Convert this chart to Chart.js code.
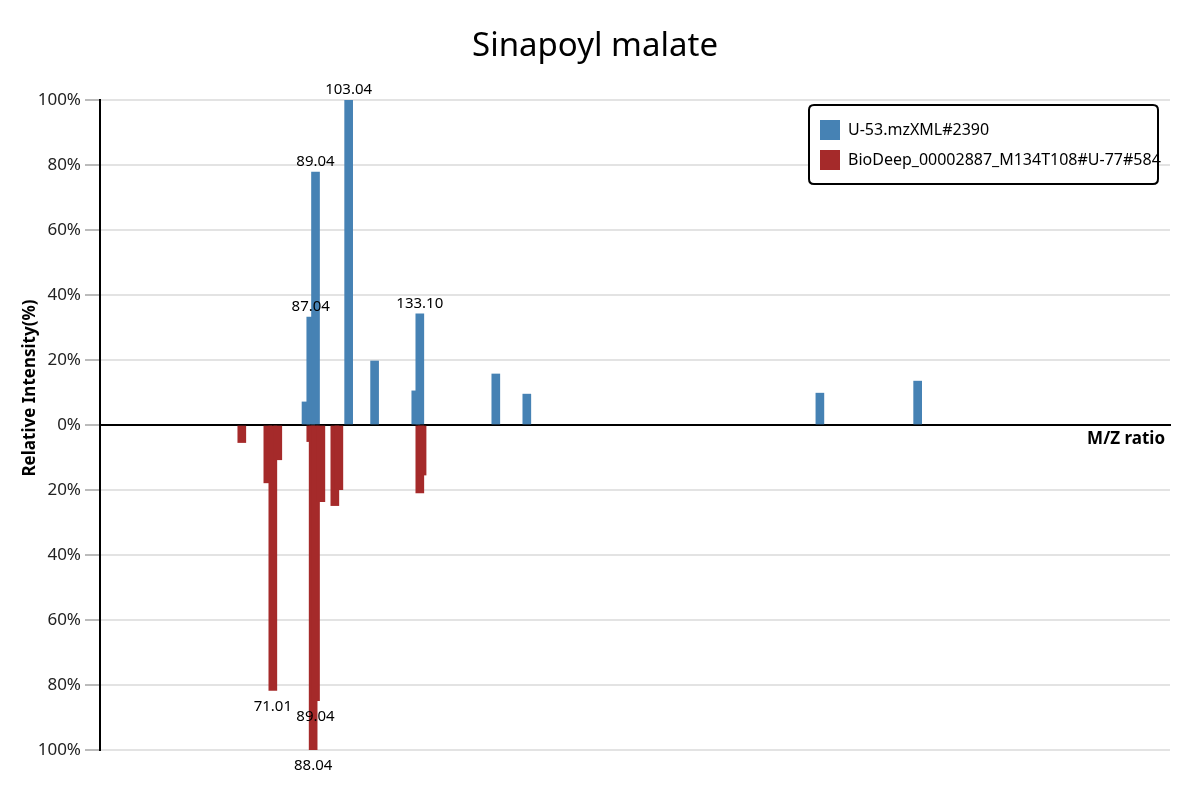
<!DOCTYPE html>
<html>
<head>
<meta charset="utf-8">
<script src="https://cdn.jsdelivr.net/npm/chart.js@4.4.0/dist/chart.umd.min.js"></script>
<style>
  html, body { margin: 0; padding: 0; background: #ffffff; }
  #wrap { width: 1200px; height: 800px; }
</style>
</head>
<body>
<div id="wrap"><canvas id="c" width="1200" height="800"></canvas></div>
<script>
// ---- data ----
const chartTitle = 'Sinapoyl malate';
const seriesNames = ['U-53.mzXML#2390', 'BioDeep_00002887_M134T108#U-77#584'];
const xAxisTitle = 'M/Z ratio';
const yAxisTitle = 'Relative Intensity(%)';

const sampleMz = [85.03, 87.04, 89.04, 103.04, 114.0, 131.4, 133.10, 165.2, 178.3, 302.1, 343.4];
const sampleIntensity = [7.1, 33.2, 77.8, 100, 19.7, 10.5, 34.2, 15.7, 9.5, 9.8, 13.5];
const sampleLabels = ['87.04', '89.04', '103.04', '133.10'];

const refMz = [57.9, 68.9, 71.01, 73.1, 87.04, 88.04, 89.04, 91.3, 97.2, 98.9, 133.10, 134.05];
const refIntensity = [5.4, 17.8, 81.7, 10.7, 5.1, 100, 84.8, 23.6, 24.8, 19.9, 20.9, 15.4];
const refLabels = ['71.01', '89.04', '88.04'];

const yTickValues = [-100, -80, -60, -40, -20, 0, 20, 40, 60, 80, 100];

const blue = '#4682B4';
const red = '#A52A2A';
const FONT = '"Noto Sans", "Open Sans", sans-serif';

const sampleData = sampleMz.map((m, i) => ({ x: m, y: sampleIntensity[i] }));
const refData = refMz.map((m, i) => ({ x: m, y: -refIntensity[i] }));

const peakLabelPlugin = {
  id: 'peakLabels',
  afterDatasetsDraw(chart) {
    const ctx = chart.ctx;
    ctx.save();
    ctx.font = '15px ' + FONT;
    ctx.fillStyle = '#000';
    ctx.textAlign = 'center';
    ctx.textBaseline = 'alphabetic';
    const sets = [[0, sampleMz, sampleLabels, -6], [1, refMz, refLabels, 20]];
    sets.forEach(([di, mzs, labels, dy]) => {
      const meta = chart.getDatasetMeta(di);
      mzs.forEach((m, i) => {
        const txt = m.toFixed(2);
        if (labels.indexOf(txt) < 0) return;
        const el = meta.data[i];
        ctx.fillText(txt, el.x, el.y + dy);
      });
    });
    ctx.restore();
  }
};

const extrasPlugin = {
  id: 'extras',
  afterDraw(chart) {
    const ctx = chart.ctx;
    const area = chart.chartArea;
    const zeroY = chart.scales.y.getPixelForValue(0);
    ctx.save();
    // x axis title
    ctx.font = 'bold 17px ' + FONT;
    ctx.fillStyle = '#000';
    ctx.textAlign = 'right';
    ctx.textBaseline = 'alphabetic';
    ctx.fillText(xAxisTitle, area.right - 5, zeroY + 19);
    // y axis title
    ctx.textAlign = 'center';
    ctx.textBaseline = 'middle';
    ctx.translate(30, 388);
    ctx.rotate(-Math.PI / 2);
    ctx.fillText(yAxisTitle, 0, 0);
    ctx.restore();

    // legend box
    ctx.save();
    const bx = 809, by = 105, bw = 349, bh = 79, r = 5;
    ctx.beginPath();
    ctx.moveTo(bx + r, by);
    ctx.lineTo(bx + bw - r, by);
    ctx.quadraticCurveTo(bx + bw, by, bx + bw, by + r);
    ctx.lineTo(bx + bw, by + bh - r);
    ctx.quadraticCurveTo(bx + bw, by + bh, bx + bw - r, by + bh);
    ctx.lineTo(bx + r, by + bh);
    ctx.quadraticCurveTo(bx, by + bh, bx, by + bh - r);
    ctx.lineTo(bx, by + r);
    ctx.quadraticCurveTo(bx, by, bx + r, by);
    ctx.closePath();
    ctx.fillStyle = '#fff';
    ctx.fill();
    ctx.lineWidth = 2;
    ctx.strokeStyle = '#000';
    ctx.stroke();
    ctx.font = '16px ' + FONT;
    ctx.textAlign = 'left';
    ctx.textBaseline = 'middle';
    chart.data.datasets.forEach((ds, i) => {
      const y = by + 15 + i * 30;
      ctx.fillStyle = ds.backgroundColor;
      ctx.fillRect(bx + 11, y, 20, 20);
      ctx.fillStyle = '#000';
      ctx.fillText(ds.label, bx + 39, y + 10);
    });
    ctx.restore();
  }
};

new Chart(document.getElementById('c'), {
  type: 'bar',
  data: {
    datasets: [
      { label: seriesNames[0], data: sampleData, backgroundColor: blue, barThickness: 8, grouped: false, borderWidth: 0 },
      { label: seriesNames[1], data: refData, backgroundColor: red, barThickness: 8, grouped: false, borderWidth: 0 }
    ]
  },
  options: {
    responsive: false,
    animation: false,
    layout: { padding: { left: 20, right: 30, bottom: 50, top: 0 } },
    plugins: {
      legend: { display: false },
      tooltip: { enabled: false },
      title: {
        display: true,
        text: chartTitle,
        color: '#000',
        font: { family: FONT, size: 33, weight: 'normal' },
        padding: { top: 27, bottom: 33.4 }
      }
    },
    scales: {
      x: {
        type: 'linear',
        min: -2,
        max: 450,
        offset: false,
        position: { y: 0 },
        z: 1,
        grid: { display: false, drawTicks: false },
        ticks: { display: false },
        border: { display: true, color: '#000', width: 2 },
        title: { display: false }
      },
      y: {
        type: 'linear',
        min: -100,
        max: 100,
        afterFit(scale) { scale.width = 80; },
        afterBuildTicks(scale) { scale.ticks = yTickValues.map(v => ({ value: v })); },
        grid: {
          color: (c) => (c.tick && c.tick.value === 0 ? '#000' : '#e3e3e3'),
          lineWidth: 2,
          tickLength: 15,
          tickColor: '#bbbbbb',
          drawTicks: true
        },
        border: { display: true, color: '#000', width: 2 },
        ticks: {
          color: '#222',
          padding: 4,
          font: { family: FONT, size: 17 },
          callback: (v) => Math.abs(v) + '%'
        }
      }
    }
  },
  plugins: [peakLabelPlugin, extrasPlugin]
});
</script>
</body>
</html>
